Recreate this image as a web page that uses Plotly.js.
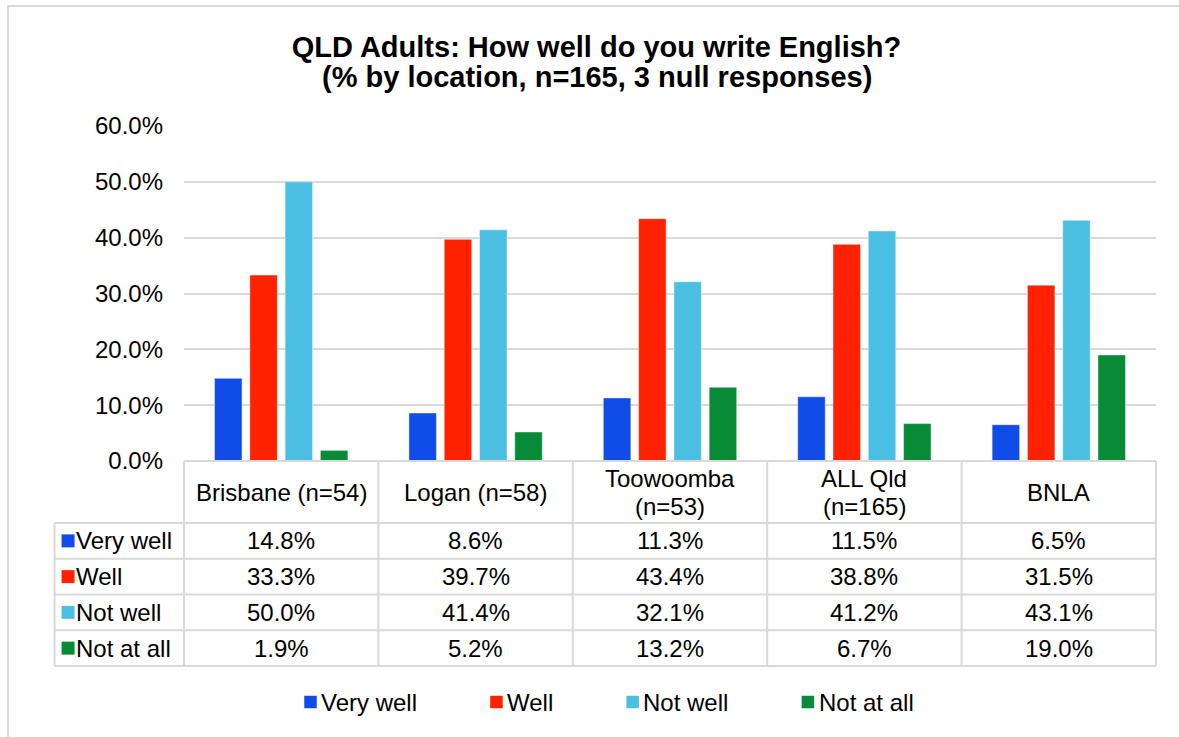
<!DOCTYPE html>
<html>
<head>
<meta charset="utf-8">
<script src="https://cdn.plot.ly/plotly-3.0.1.min.js"></script>
<style>
html,body{margin:0;padding:0;background:#fff;}
#chart{width:1179px;height:737px;}
</style>
</head>
<body>
<div id="chart"></div>
<script>
// ---- data ----
const categories = ["Brisbane (n=54)", "Logan (n=58)", "Toowoomba\n(n=53)", "ALL Qld\n(n=165)", "BNLA"];
const seriesNames = ["Very well", "Well", "Not well", "Not at all"];
const veryWell = [14.8, 8.6, 11.3, 11.5, 6.5];
const well     = [33.3, 39.7, 43.4, 38.8, 31.5];
const notWell  = [50.0, 41.4, 32.1, 41.2, 43.1];
const notAtAll = [1.9, 5.2, 13.2, 6.7, 19.0];
const yTicks = [0, 10, 20, 30, 40, 50, 60];
const titleLine1 = "QLD Adults: How well do you write English?";
const titleLine2 = "(% by location, n=165, 3 null responses)";

// ---- styling / geometry ----
const seriesValues = [veryWell, well, notWell, notAtAll];
const colors = ["#104DE8", "#FF2200", "#4BBFE2", "#078B37"];
const FONT = "Liberation Sans, Arial, sans-serif";
const TXT = "#000000";
const GRID = "#d9d9d9";
const W = 1179, H = 737;
const L = 183.5, R = 1156, T = 126, B = 461;
const fx = px => (px - L) / (R - L);
const fy = py => (B - py) / (B - T);
const nCat = categories.length;
const headerBottom = 523;
const rowPitch = 35.75;
const rowLines = [headerBottom];
for (let i = 0; i < seriesNames.length; i++) rowLines.push(headerBottom + rowPitch * (i + 1));
const tableBottom = rowLines[rowLines.length - 1];
const keyLeft = 54;
const FS = 24;

const canvas = document.createElement('canvas');
const ctx = canvas.getContext('2d');
ctx.font = FS + "px 'Liberation Sans'";
const textW = s => ctx.measureText(s).width;

const traces = seriesNames.map((name, s) => ({
  type: 'bar',
  name: name,
  x: categories.map(c => c.replace('\n', ' ')),
  y: seriesValues[s],
  marker: {color: colors[s], line: {color: 'rgba(255,255,255,0.45)', width: 1}},
  hoverinfo: 'none'
}));

const shapes = [];
const annotations = [];

// outer chart border
shapes.push({type: 'rect', xref: 'paper', yref: 'paper', x0: fx(7.5), x1: fx(1210), y0: fy(6), y1: fy(760),
  line: {color: GRID, width: 2}, fillcolor: 'rgba(0,0,0,0)', layer: 'below'});

// table horizontal lines
shapes.push({type: 'line', xref: 'paper', yref: 'paper', x0: 0, x1: 1, y0: 0, y1: 0, line: {color: GRID, width: 2}});
rowLines.forEach(py => shapes.push({type: 'line', xref: 'paper', yref: 'paper', x0: fx(keyLeft), x1: 1, y0: fy(py), y1: fy(py), line: {color: GRID, width: 2}}));
// table vertical lines
for (let i = 0; i <= nCat; i++) {
  shapes.push({type: 'line', xref: 'paper', yref: 'paper', x0: i / nCat, x1: i / nCat, y0: 0, y1: fy(tableBottom), line: {color: GRID, width: 2}});
}
shapes.push({type: 'line', xref: 'paper', yref: 'paper', x0: fx(keyLeft), x1: fx(keyLeft), y0: fy(headerBottom), y1: fy(tableBottom), line: {color: GRID, width: 2}});

// header row
const headerMid = (B + headerBottom) / 2;
categories.forEach((c, i) => {
  const lines = c.split('\n');
  const pitch = 28;
  lines.forEach((ln, k) => {
    const cy = headerMid + (k - (lines.length - 1) / 2) * pitch;
    annotations.push({xref: 'paper', yref: 'paper', x: (i + 0.5) / nCat, y: fy(cy), text: ln, showarrow: false,
      xanchor: 'center', yanchor: 'middle', font: {family: FONT, size: FS, color: TXT}});
  });
});

// value rows + key column
seriesNames.forEach((name, s) => {
  const cy = (rowLines[s] + rowLines[s + 1]) / 2;
  shapes.push({type: 'rect', xref: 'paper', yref: 'paper', x0: fx(61), x1: fx(74), y0: fy(cy - 6.5), y1: fy(cy + 6.5),
    line: {width: 0}, fillcolor: colors[s]});
  annotations.push({xref: 'paper', yref: 'paper', x: fx(73.5), y: fy(cy), text: name, showarrow: false,
    xanchor: 'left', yanchor: 'middle', font: {family: FONT, size: FS, color: TXT}});
  seriesValues[s].forEach((v, i) => {
    annotations.push({xref: 'paper', yref: 'paper', x: (i + 0.5) / nCat, y: fy(cy), text: v.toFixed(1) + '%', showarrow: false,
      xanchor: 'center', yanchor: 'middle', font: {family: FONT, size: FS, color: TXT}});
  });
});

// bottom legend
const sq = 12.5, sqGap = 5.5, itemGap = 72;
let total = 0;
seriesNames.forEach((n, s) => { total += sq + sqGap + textW(n) + (s < seriesNames.length - 1 ? itemGap : 0); });
let lx = 609 - total / 2;
const legY = 702;
seriesNames.forEach((n, s) => {
  shapes.push({type: 'rect', xref: 'paper', yref: 'paper', x0: fx(lx), x1: fx(lx + sq), y0: fy(legY - sq / 2), y1: fy(legY + sq / 2),
    line: {width: 0}, fillcolor: colors[s]});
  annotations.push({xref: 'paper', yref: 'paper', x: fx(lx + sq + sqGap - 3), y: fy(legY), text: n, showarrow: false,
    xanchor: 'left', yanchor: 'middle', font: {family: FONT, size: FS, color: TXT}});
  lx += sq + sqGap + textW(n) + itemGap;
});

// title second line
annotations.push({xref: 'paper', yref: 'paper', x: fx(597), y: fy(77), text: '<b>' + titleLine2 + '</b>', showarrow: false,
  xanchor: 'center', yanchor: 'middle', font: {family: FONT, size: 29, color: TXT}});

const layout = {
  width: W, height: H,
  margin: {l: L, r: W - R, t: T, b: H - B, pad: 0},
  paper_bgcolor: '#ffffff', plot_bgcolor: '#ffffff',
  showlegend: false,
  title: {text: '<b>' + titleLine1 + '</b>', x: 596.5 / W, xref: 'container', xanchor: 'center',
    y: 1 - 47 / H, yref: 'container', yanchor: 'middle', font: {family: FONT, size: 29, color: TXT}},
  barmode: 'group', bargap: 0.274, bargroupgap: 0.22,
  xaxis: {type: 'category', showticklabels: false, ticks: '', showgrid: false, zeroline: false, showline: false, fixedrange: true},
  yaxis: {range: [0, 60], tickvals: yTicks, ticktext: yTicks.map(v => v.toFixed(1) + '%'), ticks: '', ticklabelstandoff: 20,
    showgrid: true, gridcolor: GRID, gridwidth: 2, zeroline: false, showline: false,
    tickfont: {family: FONT, size: FS, color: TXT}, fixedrange: true},
  shapes: shapes,
  annotations: annotations
};

Plotly.newPlot('chart', traces, layout, {staticPlot: true, displayModeBar: false});
</script>
</body>
</html>
